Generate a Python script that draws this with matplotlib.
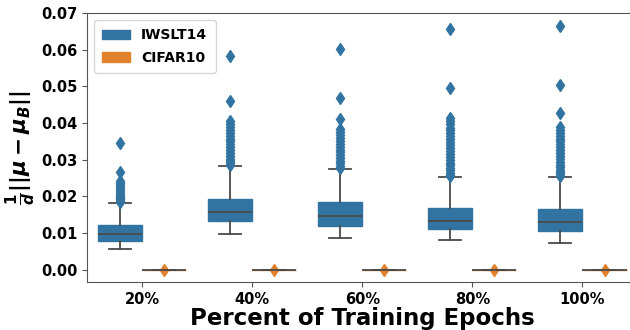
import matplotlib
matplotlib.use("Agg")
import matplotlib.pyplot as plt
from matplotlib.patches import Patch

plt.rcParams["font.family"] = "DejaVu Sans"
plt.rcParams["font.weight"] = "bold"
plt.rcParams["mathtext.fontset"] = "custom"
plt.rcParams["mathtext.rm"] = "DejaVu Sans:bold"
plt.rcParams["mathtext.it"] = "DejaVu Sans:italic:bold"
plt.rcParams["mathtext.bf"] = "DejaVu Sans:bold"

CATEGORIES = ["20%", "40%", "60%", "80%", "100%"]
SERIES = ["IWSLT14", "CIFAR10"]
COLORS = ["#3274a1", "#e1812c"]

# IWSLT14 box statistics
iwslt_q1 = [0.0080, 0.0134, 0.0120, 0.0111, 0.0106]
iwslt_med = [0.0097, 0.0159, 0.0147, 0.0134, 0.0130]
iwslt_q3 = [0.0122, 0.0194, 0.0184, 0.0168, 0.0166]
iwslt_whislo = [0.0057, 0.0099, 0.0087, 0.0081, 0.0074]
iwslt_whishi = [0.0182, 0.0284, 0.0275, 0.0254, 0.0253]
iwslt_fliers = [
    [0.0345, 0.0266, 0.0241, 0.0236, 0.0230, 0.0225, 0.0220, 0.0215,
     0.0210, 0.0205, 0.0200, 0.0196, 0.0192, 0.0188, 0.0186],
    [0.0584, 0.0460, 0.0407, 0.0398, 0.0390, 0.0382, 0.0374, 0.0366,
     0.0358, 0.0350, 0.0342, 0.0334, 0.0326, 0.0318, 0.0310, 0.0303,
     0.0296, 0.0290, 0.0286],
    [0.0602, 0.0468, 0.0411, 0.0383, 0.0376, 0.0368, 0.0360, 0.0352,
     0.0344, 0.0336, 0.0328, 0.0320, 0.0312, 0.0304, 0.0297, 0.0290,
     0.0284, 0.0279],
    [0.0656, 0.0495, 0.0413, 0.0405, 0.0397, 0.0388, 0.0380, 0.0372,
     0.0364, 0.0356, 0.0348, 0.0340, 0.0332, 0.0324, 0.0316, 0.0308,
     0.0300, 0.0292, 0.0285, 0.0278, 0.0271, 0.0265, 0.0259, 0.0256],
    [0.0666, 0.0504, 0.0427, 0.0390, 0.0382, 0.0374, 0.0366, 0.0358,
     0.0350, 0.0342, 0.0334, 0.0326, 0.0318, 0.0310, 0.0302, 0.0294,
     0.0287, 0.0280, 0.0273, 0.0267, 0.0262, 0.0257],
]

# CIFAR10 values collapse to zero
cifar_stat = [0.0, 0.0, 0.0, 0.0, 0.0]
cifar_fliers = [[0.0001], [0.0001], [0.0001], [0.0001], [0.0001]]


def make_stats(q1, med, q3, lo, hi, fliers):
    return [dict(q1=a, med=b, q3=c, whislo=d, whishi=e, fliers=f)
            for a, b, c, d, e, f in zip(q1, med, q3, lo, hi, fliers)]


def main():
    fig = plt.figure(figsize=(6.3, 3.3), dpi=100)
    ax = fig.add_axes([0.138, 0.1455, 0.874, 0.815])

    groups = [
        make_stats(iwslt_q1, iwslt_med, iwslt_q3, iwslt_whislo, iwslt_whishi, iwslt_fliers),
        make_stats(cifar_stat, cifar_stat, cifar_stat, cifar_stat, cifar_stat, cifar_fliers),
    ]
    offsets = [-0.2, 0.2]
    line_col = "#4a4a4a"

    for stats, off, col in zip(groups, offsets, COLORS):
        pos = [i + off for i in range(len(CATEGORIES))]
        ax.bxp(stats, positions=pos, widths=0.4, patch_artist=True,
               boxprops=dict(facecolor=col, edgecolor=col, linewidth=1.0),
               medianprops=dict(color=line_col, linewidth=1.3),
               whiskerprops=dict(color=line_col, linewidth=1.3),
               capprops=dict(color=line_col, linewidth=1.3),
               flierprops=dict(marker="d", markerfacecolor=col, markeredgecolor=col,
                               markersize=6, linestyle="none"),
               manage_ticks=False)

    ax.set_xlim(-0.5, len(CATEGORIES) - 0.5)
    ax.set_ylim(-0.0033, 0.07)
    ax.set_xticks(range(len(CATEGORIES)))
    ax.set_xticklabels(CATEGORIES, fontsize=10.5, fontweight="bold")
    ax.set_yticks([0.0, 0.01, 0.02, 0.03, 0.04, 0.05, 0.06, 0.07])
    ax.set_yticklabels(["0.00", "0.01", "0.02", "0.03", "0.04", "0.05", "0.06", "0.07"],
                       fontsize=10.5, fontweight="bold")

    for s in ax.spines.values():
        s.set_color("#555555")
    ax.tick_params(colors="#555555", labelcolor="black")

    ax.set_xlabel("Percent of Training Epochs", fontsize=16.5, fontweight="bold", labelpad=0)
    ax.set_ylabel(r"$\frac{1}{d}||\mu - \mu_B||$", fontsize=15.5, labelpad=2)

    handles = [Patch(facecolor=c, edgecolor=c) for c in COLORS]
    ax.legend(handles, SERIES, loc="upper left",
              prop=dict(weight="bold", size=10), handlelength=2.0,
              borderpad=0.6, labelspacing=0.6)

    fig.savefig("out.png", dpi=100)


if __name__ == "__main__":
    main()
